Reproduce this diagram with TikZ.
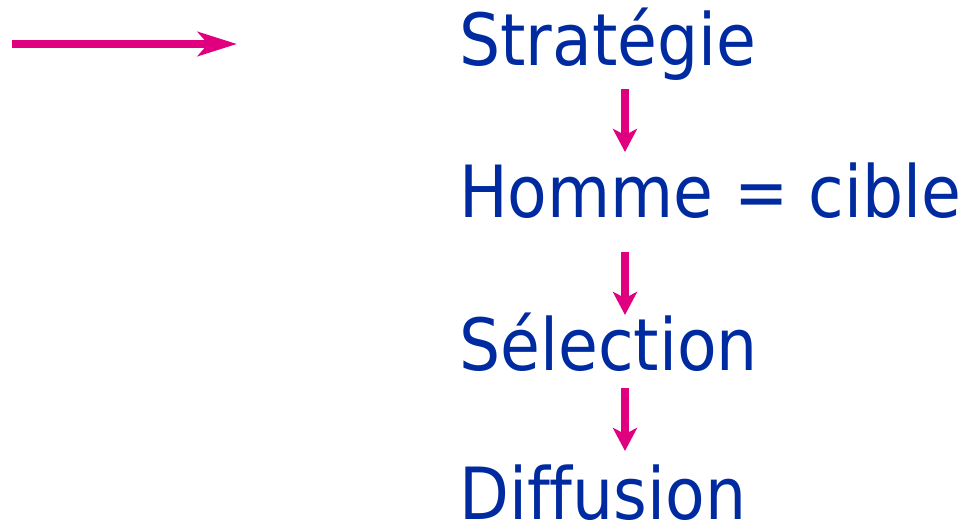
\documentclass[tikz,border=0pt]{standalone}
\usepackage{fontspec}
\setmainfont[Ligatures=NoCommon]{DejaVu Sans Condensed}
\usetikzlibrary{arrows.meta}
\definecolor{txtblue}{HTML}{002AA0}
\definecolor{arrmag}{HTML}{E0007F}
\begin{document}
\begin{tikzpicture}[x=1pt,y=1pt,
  word/.style={anchor=base west,inner sep=0pt,text=txtblue,font=\fontsize{72}{80}\selectfont},
  downarr/.style={draw=arrmag,line width=7.5pt,-{Stealth[length=23pt,width=24pt,inset=6pt]}},
  sidearr/.style={draw=arrmag,line width=7.5pt,-{Stealth[length=39pt,width=24pt,inset=10pt]}}]
\useasboundingbox (0,0) rectangle (969,-526);
% the four stages, one under the other
\node[word] (s) at (459,-66) {Stratégie};
\node[word] (h) at (459,-218) {Homme = cible};
\node[word] (l) at (459,-371) {Sélection};
\node[word] (d) at (459,-519) {Diffusion};
\coordinate (ax) at (625,0);
% links between stages
\draw[downarr] ([yshift=-23pt]s.base -| ax) -- ([yshift=66pt]h.base -| ax);
\draw[downarr] ([yshift=-34pt]h.base -| ax) -- ([yshift=56pt]l.base -| ax);
\draw[downarr] ([yshift=-17pt]l.base -| ax) -- ([yshift=68pt]d.base -| ax);
% arrow on the left
\coordinate (p0) at (12,-44);
\coordinate (p1) at (237,-44);
\draw[sidearr] (p0) -- (p1);
\end{tikzpicture}
\end{document}
